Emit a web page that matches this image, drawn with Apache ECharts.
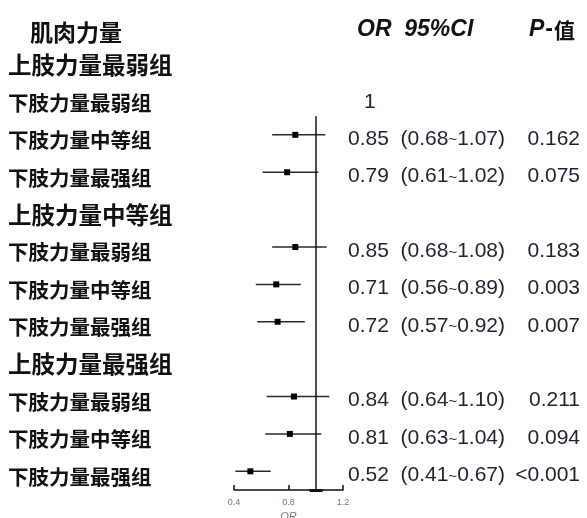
<!DOCTYPE html>
<html><head><meta charset="utf-8">
<script src="https://cdn.jsdelivr.net/npm/echarts@6/dist/echarts.min.js"></script>
<style>html,body{margin:0;padding:0;background:#fff}#c{width:587px;height:518px}</style>
</head><body><div id="c"></div>
<script>
// Row labels (top to bottom)
const rowLabels = ['肌肉力量','上肢力量最弱组','下肢力量最弱组','下肢力量中等组','下肢力量最强组',
  '上肢力量中等组','下肢力量最弱组','下肢力量中等组','下肢力量最强组',
  '上肢力量最强组','下肢力量最弱组','下肢力量中等组','下肢力量最强组'];
const rowKinds = ['h','g','s','s','s','g','s','s','s','g','s','s','s'];
const orHeader = 'OR  95%CI';
const pHeaderP = 'P';
const pHeaderRest = '-值';
const refRow = 2;
const refText = '1';
// Estimates
const estRows  = [3, 4, 6, 7, 8, 10, 11, 12];
const orValues = [0.85, 0.79, 0.85, 0.71, 0.72, 0.84, 0.81, 0.52];
const ciLower  = [0.68, 0.61, 0.68, 0.56, 0.57, 0.64, 0.63, 0.41];
const ciUpper  = [1.07, 1.02, 1.08, 0.89, 0.92, 1.10, 1.04, 0.67];
const pValues  = ['0.162','0.075','0.183','0.003','0.007','0.211','0.094','<0.001'];
const xTicks = [0.4, 0.8, 1.2];
const refLine = 1;

const nRows = rowLabels.length;
const orCol = new Array(nRows).fill('');
const pCol = new Array(nRows).fill('');
orCol[0] = '{hd|' + orHeader + '}';
pCol[0] = '{hp|' + pHeaderP + '}{hm|-}{hz|' + pHeaderRest.slice(1) + '}';
orCol[refRow] = '{one|' + refText + '}';
estRows.forEach((r, i) => {
  orCol[r] = '{v|' + orValues[i].toFixed(2) + '  (' + ciLower[i].toFixed(2) + '}{t|~}{v|' + ciUpper[i].toFixed(2) + ')}';
  pCol[r] = '{v|' + pValues[i] + '}';
});
const catData = rowLabels.map((_, i) => 'r' + i);
const seriesData = estRows.map((r, i) => [orValues[i], ciLower[i], ciUpper[i], r]);

const txtCol = '#1e2233';
const numFont = '"Liberation Sans", Arial, sans-serif';
const cjkFont = '"Noto Sans CJK SC", sans-serif';

const chart = echarts.init(document.getElementById('c'), null, {renderer: 'canvas'});
chart.setOption({
  animation: false,
  backgroundColor: '#fff',
  grid: {left: 234, right: 244, top: 4, bottom: 28, outerBoundsMode: 'none', containLabel: false},
  xAxis: {
    type: 'value', min: xTicks[0], max: xTicks[xTicks.length - 1], interval: 0.4,
    axisLine: {show: true, onZero: false, lineStyle: {color: '#111', width: 1.5}},
    axisTick: {show: true, inside: true, length: 5, lineStyle: {color: '#111', width: 1.5}},
    axisLabel: {fontSize: 9, color: '#8a6f5c', margin: 8, fontFamily: numFont},
    splitLine: {show: false},
    name: 'OR', nameLocation: 'middle', nameGap: 21,
    nameTextStyle: {fontSize: 11, fontStyle: 'italic', color: '#777', fontFamily: numFont}
  },
  yAxis: [
    {
      type: 'category', data: catData, inverse: true, position: 'left',
      axisLine: {show: false}, axisTick: {show: false}, splitLine: {show: false},
      axisLabel: {
        interval: 0, align: 'left', margin: 226, padding: [11, 0, 0, 0],
        formatter: (v, i) => '{' + rowKinds[i] + '|' + rowLabels[i] + '}',
        rich: {
          h: {fontSize: 23, fontWeight: 'bold', color: '#111', fontFamily: cjkFont, padding: [8, 0, 0, 22]},
          g: {fontSize: 23.5, fontWeight: 'bold', color: '#111', fontFamily: cjkFont, padding: [0, 0, 1, 0]},
          s: {fontSize: 20.5, fontWeight: 'bold', color: '#111', fontFamily: cjkFont}
        }
      }
    },
    {
      type: 'category', data: catData, inverse: true, position: 'right',
      axisLine: {show: false}, axisTick: {show: false}, splitLine: {show: false},
      axisLabel: {
        interval: 0, align: 'left', margin: 5, padding: [8, 0, 0, 0],
        formatter: (v, i) => orCol[i],
        rich: {
          hd: {fontSize: 23, fontWeight: 'bold', fontStyle: 'italic', color: '#111', fontFamily: numFont, padding: [6, 0, 0, 9]},
          one: {fontSize: 21, color: txtCol, fontFamily: numFont, padding: [2, 0, 0, 16]},
          v: {fontSize: 21, color: txtCol, fontFamily: numFont},
          t: {fontSize: 15, color: txtCol, fontFamily: numFont, padding: [3, 0, 0, 0]}
        }
      }
    },
    {
      type: 'category', data: catData, inverse: true, position: 'right',
      axisLine: {show: false}, axisTick: {show: false}, splitLine: {show: false},
      axisLabel: {
        interval: 0, align: 'right', margin: 237, padding: [8, 0, 0, 0],
        formatter: (v, i) => pCol[i],
        rich: {
          hp: {fontSize: 23, fontWeight: 'bold', fontStyle: 'italic', color: '#111', fontFamily: numFont, padding: [6, 0, 0, 0]},
          hm: {fontSize: 23, fontWeight: 'bold', color: '#111', fontFamily: numFont, padding: [6, 1, 0, 1]},
          hz: {fontSize: 21, fontWeight: 'bold', color: '#111', fontFamily: cjkFont, padding: [6, 5, 0, 0]},
          v: {fontSize: 21, color: txtCol, fontFamily: numFont}
        }
      }
    },
    {type: 'value', min: -0.5, max: nRows - 0.5, inverse: true, show: false}
  ],
  series: [{
    type: 'custom', xAxisIndex: 0, yAxisIndex: 3,
    data: seriesData,
    encode: {x: [0, 1, 2], y: 3},
    clip: false,
    renderItem: (params, api) => {
      const row = api.value(3);
      const p = api.coord([api.value(0), row]);
      const a = api.coord([api.value(1), row]);
      const b = api.coord([api.value(2), row]);
      const s = 6;
      return {
        type: 'group',
        children: [
          {type: 'line', shape: {x1: a[0], y1: a[1], x2: b[0], y2: b[1]}, style: {stroke: '#2a2a2a', lineWidth: 1.5}},
          {type: 'rect', shape: {x: p[0] - s / 2, y: p[1] - s / 2, width: s, height: s}, style: {fill: '#000'}}
        ]
      };
    },
    markLine: {
      silent: true, symbol: 'none', label: {show: false},
      lineStyle: {color: '#111', width: 1.5, type: 'solid'},
      data: [
        [{coord: [refLine, refRow + 0.5]}, {coord: [refLine, nRows - 0.5]}],
        [{coord: [refLine - 0.045, nRows - 0.5], lineStyle: {width: 3}}, {coord: [refLine + 0.05, nRows - 0.5]}]
      ]
    }
  }]
});
</script></body></html>
